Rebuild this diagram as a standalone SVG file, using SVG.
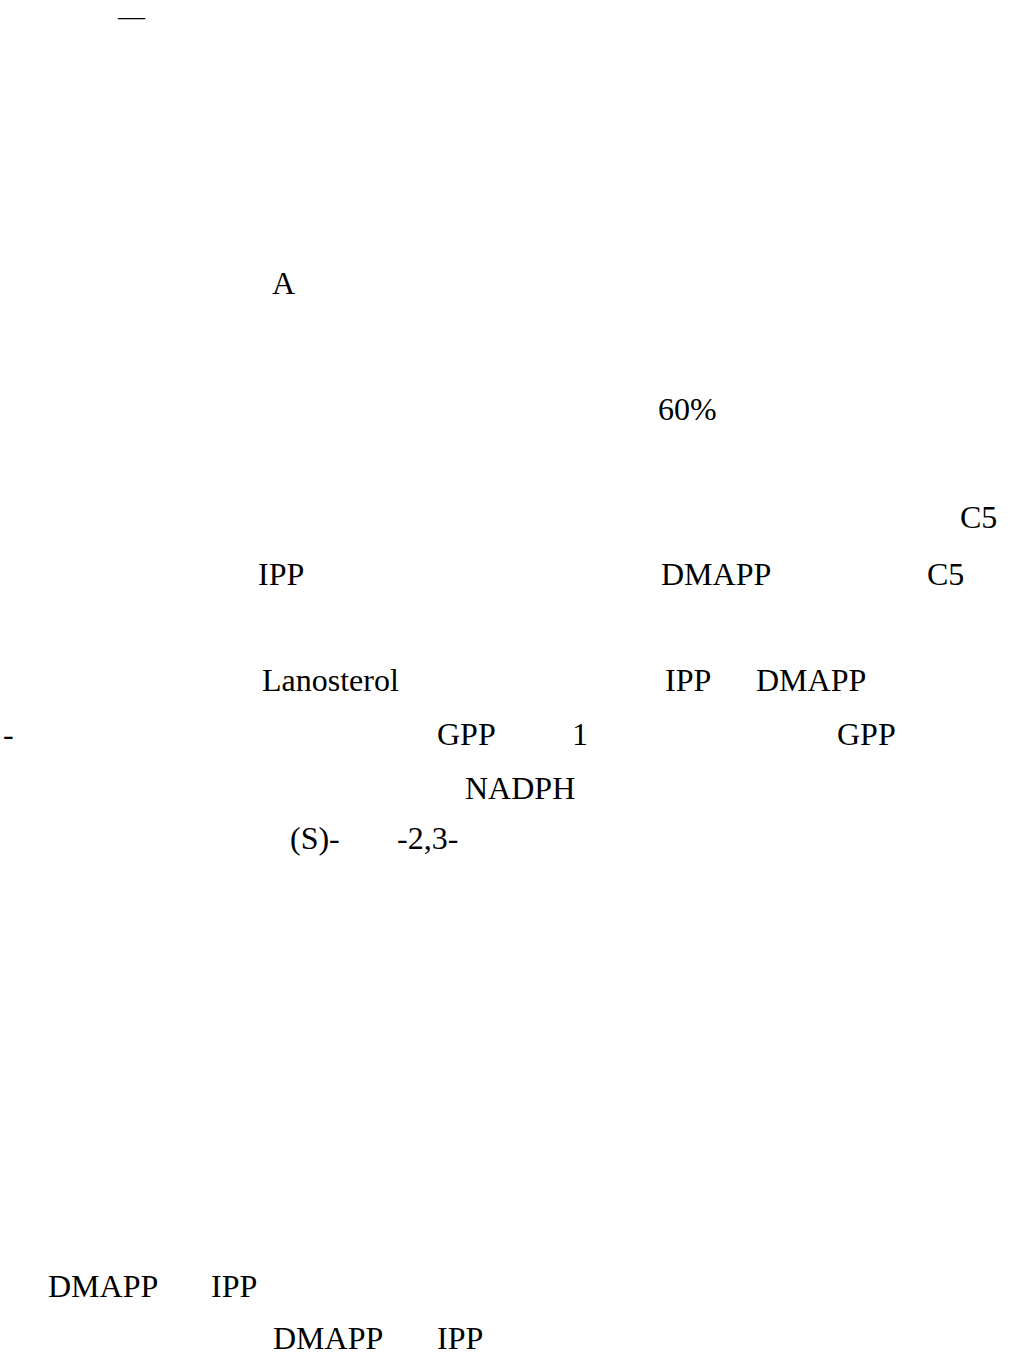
<svg xmlns="http://www.w3.org/2000/svg" width="1012" height="1360" viewBox="0 0 1012 1360">
<style>
text{font-family:"Liberation Serif","Times New Roman",serif;font-size:32px;fill:#000}
.dash{font-size:27px}
</style>
<rect width="1012" height="1360" fill="#fff"/>
<g id="text">
<text class="dash" x="118" y="25">—</text>
<text x="272" y="294">A</text>
<text x="658" y="420">60%</text>
<text x="960" y="528">C5</text>
<text x="258" y="585">IPP</text>
<text x="661" y="585">DMAPP</text>
<text x="927" y="585">C5</text>
<text x="262" y="691">Lanosterol</text>
<text x="665" y="691">IPP</text>
<text x="756" y="691">DMAPP</text>
<text x="3" y="745">-</text>
<text x="437" y="745">GPP</text>
<text x="572" y="745">1</text>
<text x="837" y="745">GPP</text>
<text x="465" y="799">NADPH</text>
<text x="290" y="849">(S)-</text>
<text x="397" y="849">-2,3-</text>
<text x="48" y="1297">DMAPP</text>
<text x="211" y="1297">IPP</text>
<text x="273" y="1349">DMAPP</text>
<text x="437" y="1349">IPP</text>
</g>
</svg>
